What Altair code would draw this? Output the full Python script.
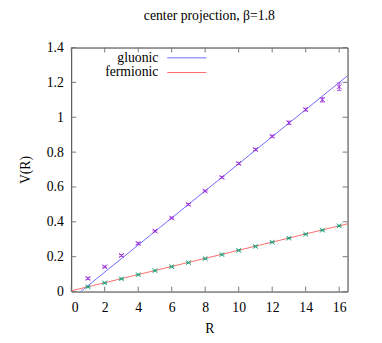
import altair as alt
import pandas as pd

# ---- data ----
R = [1, 2, 3, 4, 5, 6, 7, 8, 9, 10, 11, 12, 13, 14, 15, 16]
V_gluonic = [0.075, 0.142, 0.207, 0.276, 0.347, 0.422, 0.500, 0.577, 0.655, 0.735,
             0.815, 0.891, 0.968, 1.044, 1.100, 1.175]
err_gluonic = [0.006, 0.005, 0.005, 0.006, 0.005, 0.005, 0.005, 0.005, 0.005, 0.006,
               0.006, 0.006, 0.010, 0.008, 0.012, 0.022]
V_fermionic = [0.027, 0.050, 0.073, 0.097, 0.120, 0.143, 0.166, 0.189, 0.212, 0.236,
               0.259, 0.283, 0.306, 0.329, 0.352, 0.377]
err_fermionic = [0.003, 0.003, 0.003, 0.003, 0.003, 0.003, 0.003, 0.003, 0.003, 0.003,
                 0.003, 0.003, 0.003, 0.003, 0.003, 0.004]

# linear fits (slope, intercept)
fit_names = ["gluonic", "fermionic"]
fit_slope = [0.0777, 0.0233]
fit_intercept = [-0.044, 0.004]
fit_range = [0, 16.5]

x_ticks = [0, 2, 4, 6, 8, 10, 12, 14, 16]
y_ticks = [0, 0.2, 0.4, 0.6, 0.8, 1.0, 1.2, 1.4]

GLU_PT = "#9b30d8"
FER_PT = "#1fa07a"
GLU_LINE = "#6b6bff"
FER_LINE = "#ff6b6b"
FONT = "'Liberation Serif', 'Times New Roman', serif"
FS = 14

W, H = 282, 249

pts = pd.DataFrame({
    "R": R * 2,
    "V": V_gluonic + V_fermionic,
    "err": err_gluonic + err_fermionic,
    "series": ["gluonic"] * len(R) + ["fermionic"] * len(R),
})
pts["lo"] = pts["V"] - pts["err"]
pts["hi"] = pts["V"] + pts["err"]

rows = []
for n, s, b in zip(fit_names, fit_slope, fit_intercept):
    for x in fit_range:
        rows.append({"fit": n, "x": x, "y": s * x + b})
fits = pd.DataFrame(rows)

xs = alt.Scale(domain=[0, 16.5], nice=False, zero=False)
ys = alt.Scale(domain=[0, 1.4], nice=False, zero=False)
col = alt.Scale(domain=["gluonic", "fermionic"], range=[GLU_PT, FER_PT])
lcol = alt.Scale(domain=["gluonic", "fermionic"], range=[GLU_LINE, FER_LINE])

xaxis = alt.Axis(values=x_ticks, tickSize=0, domain=False, grid=False,
                 labelPadding=9, title="R", titleY=38, titleBaseline="middle")
yaxis = alt.Axis(values=y_ticks, tickSize=0, domain=False, grid=False,
                 labelPadding=8, labelExpr="format(datum.value, '~g')",
                 title="V(R)", titleX=-47, titleBaseline="middle")

lines = alt.Chart(fits).mark_line(strokeWidth=1, clip=True).encode(
    x=alt.X("x:Q", scale=xs, axis=xaxis),
    y=alt.Y("y:Q", scale=ys, axis=yaxis),
    color=alt.Color("fit:N", scale=lcol, legend=None),
    detail="fit:N",
)

base = alt.Chart(pts)
bars = base.mark_rule(strokeWidth=1).encode(
    x=alt.X("R:Q", scale=xs, axis=xaxis),
    y=alt.Y("lo:Q", scale=ys, axis=yaxis),
    y2="hi:Q",
    color=alt.Color("series:N", scale=col, legend=None),
)
cap_lo = base.mark_tick(orient="horizontal", size=5, thickness=1).encode(
    x=alt.X("R:Q", scale=xs, axis=xaxis),
    y=alt.Y("lo:Q", scale=ys, axis=yaxis),
    color=alt.Color("series:N", scale=col, legend=None),
)
cap_hi = base.mark_tick(orient="horizontal", size=5, thickness=1).encode(
    x=alt.X("R:Q", scale=xs, axis=xaxis),
    y=alt.Y("hi:Q", scale=ys, axis=yaxis),
    color=alt.Color("series:N", scale=col, legend=None),
)
points = base.mark_point(shape="M-1,-1L1,1M-1,1L1,-1", size=22, filled=False,
                         strokeWidth=1, opacity=1).encode(
    x=alt.X("R:Q", scale=xs, axis=xaxis),
    y=alt.Y("V:Q", scale=ys, axis=yaxis),
    color=alt.Color("series:N", scale=col, legend=None),
)

# inward ticks on all four sides
xt = pd.DataFrame({"t": x_ticks})
yt = pd.DataFrame({"t": y_ticks})
tick_col = "#777"
xb = alt.Chart(xt).mark_rule(color=tick_col, strokeWidth=1).encode(
    x=alt.X("t:Q", scale=xs, axis=xaxis), y=alt.value(H), y2=alt.value(H - 5))
xtop = alt.Chart(xt).mark_rule(color=tick_col, strokeWidth=1).encode(
    x=alt.X("t:Q", scale=xs, axis=xaxis), y=alt.value(0), y2=alt.value(5))
yl = alt.Chart(yt).mark_rule(color=tick_col, strokeWidth=1).encode(
    y=alt.Y("t:Q", scale=ys, axis=yaxis), x=alt.value(0), x2=alt.value(5))
yr = alt.Chart(yt).mark_rule(color=tick_col, strokeWidth=1).encode(
    y=alt.Y("t:Q", scale=ys, axis=yaxis), x=alt.value(W), x2=alt.value(W - 5))

# legend (top-left, gnuplot style)
leg_layers = []
for i, name in enumerate(fit_names):
    yy = 10.5 + 15 * i
    leg_layers.append(
        alt.Chart(pd.DataFrame({"fit": [name]})).mark_text(
            font=FONT, fontSize=FS, align="right", baseline="middle", color="black"
        ).encode(text="fit:N", x=alt.value(89), y=alt.value(yy))
    )
    leg_layers.append(
        alt.Chart(pd.DataFrame({"fit": [name]})).mark_rule(strokeWidth=1).encode(
            x=alt.value(98), x2=alt.value(138), y=alt.value(yy),
            color=alt.value(GLU_LINE if i == 0 else FER_LINE),
        )
    )

chart = alt.layer(
    lines, xb, xtop, yl, yr, bars, cap_lo, cap_hi, points, *leg_layers
).resolve_scale(color="independent").properties(
    width=W, height=H,
    autosize="none",
    padding={"left": 64.5, "top": 37, "right": 27, "bottom": 41},
    title=alt.Title("center projection, β=1.8", font=FONT, fontSize=FS,
                    fontWeight="normal", color="black", anchor="middle", offset=18),
).configure_view(stroke="#333", strokeWidth=1).configure_axis(
    labelFont=FONT, labelFontSize=FS, labelColor="black",
    titleFont=FONT, titleFontSize=FS, titleFontWeight="normal", titleColor="black",
).configure_text(font=FONT)

chart.save("out.html", embed_options={"renderer": "svg", "actions": False})
